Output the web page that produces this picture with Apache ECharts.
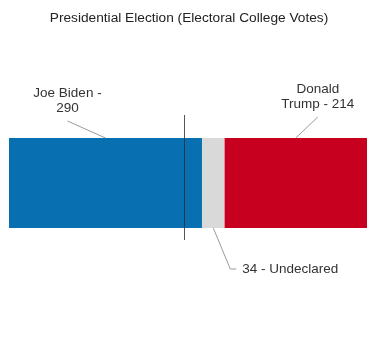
<!DOCTYPE html>
<html><head><meta charset="utf-8">
<script src="https://cdn.jsdelivr.net/npm/echarts@6/dist/echarts.min.js"></script>
<style>html,body{margin:0;padding:0;background:#fff}#c{width:378px;height:338px}</style>
</head><body><div id="c"></div>
<script>
const categories = ['Electoral College Votes'];
const candidates = ['Joe Biden', 'Undeclared', 'Donald Trump'];
const votes = [290, 34, 214];
const labelTexts = ['Joe Biden -\n290', '34 - Undeclared', 'Donald\nTrump - 214'];
const totalVotes = 538;
const thresholdValue = 263;
const titleText = 'Presidential Election (Electoral College Votes)';

(function () {
const colors = ['#086fb1', '#d9d9d9', '#c80020'];
const FONT = 'Liberation Sans, Arial, Helvetica, sans-serif';
const chart = echarts.init(document.getElementById('c'), null, {renderer: 'canvas'});
const grid = {left: 9, right: 11, top: 138, height: 90};
chart.setOption({
  animation: false,
  title: {text: titleText, left: 'center', top: 6,
    textStyle: {fontFamily: FONT, fontSize: 13.7, fontWeight: 'normal', color: '#222'}},
  grid: grid,
  xAxis: {type: 'value', min: 0, max: totalVotes, show: false},
  yAxis: {type: 'category', data: categories, show: false},
  series: candidates.map((name, i) => ({
    type: 'bar', name: name, stack: 'v', barWidth: '100%', barCategoryGap: 0,
    data: [votes[i]], itemStyle: {color: colors[i]}, silent: true
  }))
});

// annotations positioned from the library's scales
const halfBand = grid.height / 2;
const yc = chart.convertToPixel({yAxisIndex: 0}, categories[0]);
const barTop = yc - halfBand, barBot = yc + halfBand;
let cum = 0;
const centers = votes.map(v => { const c = cum + v / 2; cum += v; return chart.convertToPixel({xAxisIndex: 0}, c); });
const tx = Math.round(chart.convertToPixel({xAxisIndex: 0}, thresholdValue)) + 0.5;
const lineStyle = {stroke: '#9a9a9a', lineWidth: 1, fill: null};
const textEl = (t, x, y, align, va) => ({type: 'text', silent: true, z: 20,
  style: {text: t, x: x, y: y, align: align, verticalAlign: va, font: '13.5px ' + FONT, fill: '#333', lineHeight: 15}});
chart.setOption({graphic: [
  {type: 'line', silent: true, z: 20, shape: {x1: tx, y1: barTop - 23, x2: tx, y2: barBot + 12}, style: {stroke: '#2a2a2a', lineWidth: 1, opacity: 0.8}},
  {type: 'polyline', silent: true, z: 20, shape: {points: [[centers[0], barTop], [centers[0] - 38, barTop - 17]]}, style: lineStyle},
  textEl(labelTexts[0], centers[0] - 38, barTop - 22, 'center', 'bottom'),
  {type: 'polyline', silent: true, z: 20, shape: {points: [[centers[2], barTop], [centers[2] + 22, barTop - 21]]}, style: lineStyle},
  textEl(labelTexts[2], centers[2] + 22, barTop - 26, 'center', 'bottom'),
  {type: 'polyline', silent: true, z: 20, shape: {points: [[centers[1], barBot], [centers[1] + 17, barBot + 41], [centers[1] + 23, barBot + 41]]}, style: lineStyle},
  textEl(labelTexts[1], centers[1] + 29, barBot + 41, 'left', 'middle')
]});
})();
</script></body></html>
